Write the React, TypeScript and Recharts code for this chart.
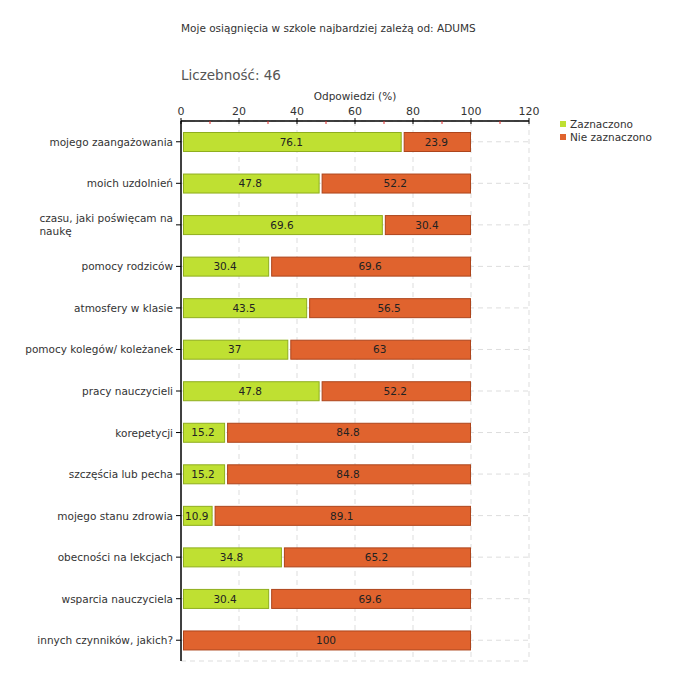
import { useLayoutEffect, useRef, useState } from "react";
import { Bar, BarChart, CartesianGrid, LabelList, XAxis, YAxis } from "recharts";

const categories = [
  "mojego zaangażowania",
  "moich uzdolnień",
  "czasu, jaki poświęcam na\nnaukę",
  "pomocy rodziców",
  "atmosfery w klasie",
  "pomocy kolegów/ koleżanek",
  "pracy nauczycieli",
  "korepetycji",
  "szczęścia lub pecha",
  "mojego stanu zdrowia",
  "obecności na lekcjach",
  "wsparcia nauczyciela",
  "innych czynników, jakich?",
];
const zaznaczono = [76.1, 47.8, 69.6, 30.4, 43.5, 37, 47.8, 15.2, 15.2, 10.9, 34.8, 30.4, 0];
const nieZaznaczono = [23.9, 52.2, 30.4, 69.6, 56.5, 63, 52.2, 84.8, 84.8, 89.1, 65.2, 69.6, 100];
const xTicks = [0, 10, 20, 30, 40, 50, 60, 70, 80, 90, 100, 110, 120];
const majorTicks = [20, 40, 60, 80, 100, 120];
const X_MAX = 120;

const title = "Moje osiągnięcia w szkole najbardziej zależą od: ADUMS";
const countLabel = "Liczebność: 46";
const axisTitle = "Odpowiedzi (%)";

const GREEN = "#bfe032";
const GREEN_EDGE = "#8fae1e";
const ORANGE = "#e0632e";
const ORANGE_EDGE = "#ad451c";
const FONT = "'DejaVu Sans', Verdana, sans-serif";
const FS = 10.5;

const data = categories.map((name, i) => ({
  name,
  yes: zaznaczono[i],
  no: nieZaznaczono[i],
}));

// leaves a small white gap on the left of each segment, like the original
function InsetBar(props: any) {
  const { x, y, width, height, fill, stroke } = props;
  if (!width || width <= 2) return null;
  return (
    <rect
      x={x + 2.5}
      y={y + 0.5}
      width={width - 3}
      height={height - 1}
      fill={fill}
      stroke={stroke}
      strokeWidth={1}
    />
  );
}

function CategoryTick(props: any) {
  const { x, y, payload } = props;
  const lines = String(payload.value).split("\n");
  const ref = useRef<SVGTextElement>(null);
  const [w, setW] = useState(0);
  useLayoutEffect(() => {
    if (ref.current) setW(ref.current.getBBox().width);
  }, []);
  const style = { fontFamily: FONT, fontSize: FS, fill: "#333" };
  if (lines.length === 1) {
    return (
      <g>
        <line x1={x + 3} x2={x + 8} y1={y} y2={y} stroke="#000" />
        <text x={x} y={y + 4} textAnchor="end" style={style}>
          {lines[0]}
        </text>
      </g>
    );
  }
  return (
    <g>
      <line x1={x + 3} x2={x + 8} y1={y} y2={y} stroke="#000" />
      <text ref={ref} x={x} y={y - 3} textAnchor="end" style={style}>
        {lines[0]}
      </text>
      <text x={x - w} y={y + 10} textAnchor="start" style={style}>
        {lines[1]}
      </text>
    </g>
  );
}

function ValueTick(props: any) {
  const { x, y, payload } = props;
  const v = payload.value as number;
  const axisY = y + 8;
  if (v % 20 !== 0) {
    return <line x1={x} x2={x} y1={axisY} y2={axisY + 3} stroke="#e03030" />;
  }
  return (
    <g>
      <line x1={x} x2={x} y1={axisY - 3} y2={axisY + 3} stroke="#000" />
      <text
        x={x}
        y={y + 2}
        textAnchor="middle"
        style={{ fontFamily: FONT, fontSize: 11, fill: "#333" }}
      >
        {v}
      </text>
    </g>
  );
}

function Legend() {
  const items = [
    { label: "Zaznaczono", color: GREEN },
    { label: "Nie zaznaczono", color: ORANGE },
  ];
  return (
    <div style={{ position: "absolute", left: 560, top: 117 }}>
      {items.map((it) => (
        <div
          key={it.label}
          style={{ display: "flex", alignItems: "center", height: 13, fontFamily: FONT, fontSize: FS, color: "#333" }}
        >
          <span style={{ width: 6, height: 6, background: it.color, marginRight: 4 }} />
          {it.label}
        </div>
      ))}
    </div>
  );
}

export default function App() {
  return (
    <div
      style={{
        position: "absolute",
        left: 0,
        top: 0,
        width: 680,
        height: 680,
        background: "#fff",
        fontFamily: FONT,
      }}
    >
      <div style={{ position: "absolute", left: 181, top: 22, fontSize: FS, color: "#333", whiteSpace: "nowrap" }}>
        {title}
      </div>
      <div style={{ position: "absolute", left: 181, top: 67, fontSize: 13.5, color: "#555", whiteSpace: "nowrap" }}>
        {countLabel}
      </div>
      <div
        style={{
          position: "absolute",
          left: 181,
          width: 348,
          top: 90,
          fontSize: FS,
          color: "#333",
          textAlign: "center",
        }}
      >
        {axisTitle}
      </div>
      <BarChart
        width={680}
        height={680}
        data={data}
        layout="vertical"
        margin={{ top: 91, right: 151, bottom: 19, left: 0 }}
        barSize={20}
      >
        <CartesianGrid
          stroke="#dddddd"
          strokeDasharray="5 4"
          verticalCoordinatesGenerator={({ offset }: any) =>
            majorTicks.map((t) => offset.left + (t / X_MAX) * offset.width)
          }
        />
        <XAxis
          type="number"
          orientation="top"
          domain={[0, X_MAX]}
          ticks={xTicks}
          interval={0}
          height={30}
          tickLine={false}
          axisLine={{ stroke: "#000", strokeWidth: 1.5 }}
          tick={(p: any) => <ValueTick {...p} />}
        />
        <YAxis
          type="category"
          dataKey="name"
          width={181}
          tickLine={false}
          axisLine={{ stroke: "#000", strokeWidth: 1.5 }}
          interval={0}
          tick={(p: any) => <CategoryTick {...p} />}
        />
        <Bar dataKey="yes" stackId="a" fill={GREEN} stroke={GREEN_EDGE} shape={InsetBar} isAnimationActive={false}>
          <LabelList
            dataKey="yes"
            position="center"
            formatter={(v: any) => (v ? v : "")}
            style={{ fontFamily: FONT, fontSize: FS, fill: "#222" }}
          />
        </Bar>
        <Bar dataKey="no" stackId="a" fill={ORANGE} stroke={ORANGE_EDGE} shape={InsetBar} isAnimationActive={false}>
          <LabelList
            dataKey="no"
            position="center"
            formatter={(v: any) => (v ? v : "")}
            style={{ fontFamily: FONT, fontSize: FS, fill: "#222" }}
          />
        </Bar>
      </BarChart>
      <Legend />
    </div>
  );
}
